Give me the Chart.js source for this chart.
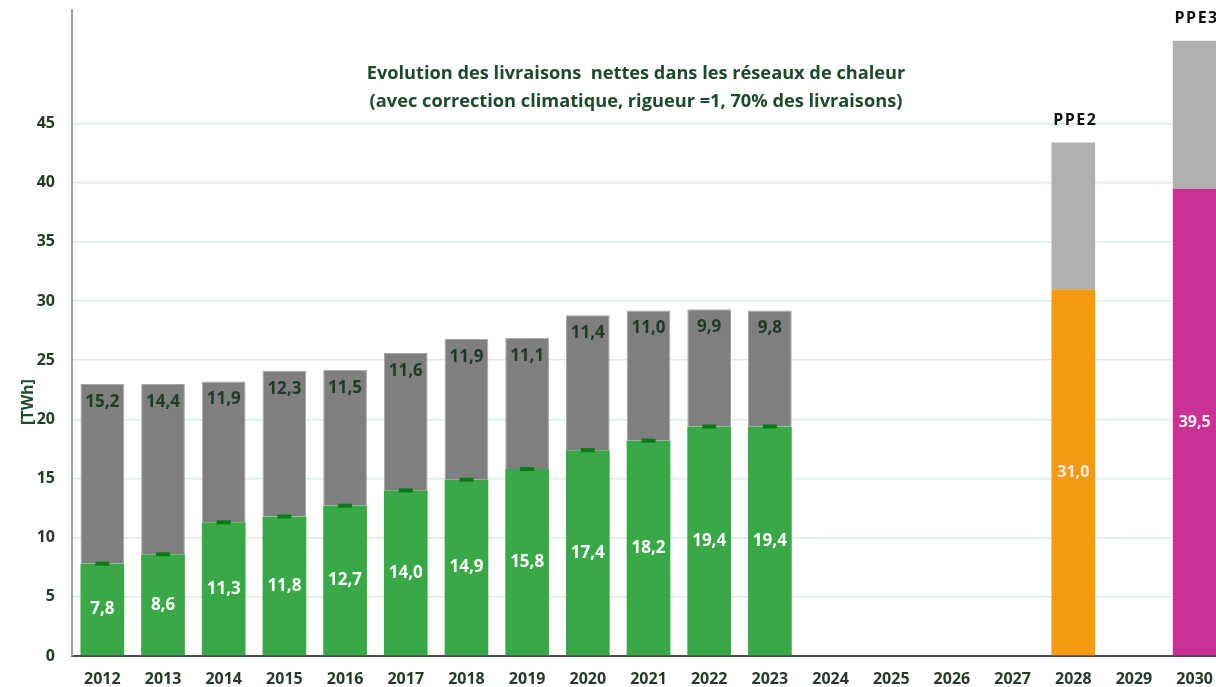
<!DOCTYPE html>
<html>
<head>
<meta charset="utf-8">
<script src="https://cdn.jsdelivr.net/npm/chart.js"></script>
<style>
  html, body { margin: 0; padding: 0; background: #ffffff; overflow: hidden; }
  #wrap { position: relative; width: 1216px; height: 687px; overflow: hidden; }
  #c { position: absolute; left: 0; top: 0; display: block; }
</style>
</head>
<body>
<div id="wrap"><canvas id="c" width="1225" height="687"></canvas></div>
<script>
const categories = ['2012','2013','2014','2015','2016','2017','2018','2019','2020','2021','2022','2023','2024','2025','2026','2027','2028','2029','2030'];
const greenValues = [7.8, 8.6, 11.3, 11.8, 12.7, 14.0, 14.9, 15.8, 17.4, 18.2, 19.4, 19.4, null, null, null, null, null, null, null];
const greyValues  = [15.2, 14.4, 11.9, 12.3, 11.5, 11.6, 11.9, 11.1, 11.4, 11.0, 9.9, 9.8, null, null, null, null, null, null, null];
const targetValues = [null, null, null, null, null, null, null, null, null, null, null, null, null, null, null, null, 31.0, null, 39.5];
const targetGreyValues = [null, null, null, null, null, null, null, null, null, null, null, null, null, null, null, null, 12.4, null, 12.5];
const targetNames = [null, null, null, null, null, null, null, null, null, null, null, null, null, null, null, null, 'PPE2', null, 'PPE3'];
const yTicks = [0, 5, 10, 15, 20, 25, 30, 35, 40, 45];
const titleLines = ['Evolution des livraisons  nettes dans les réseaux de chaleur', '(avec correction climatique, rigueur =1, 70% des livraisons)'];
const yTitle = '[TWh]';

const FONT = '"Open Sans", "DejaVu Sans", sans-serif';
const fmt = v => v.toFixed(1).replace('.', ',');

const labelPlugin = {
  id: 'labels',
  afterDatasetsDraw(chart) {
    const ctx = chart.ctx;
    ctx.save();
    ctx.textAlign = 'center';
    ctx.textBaseline = 'middle';
    ctx.font = 'bold 17px ' + FONT;
    chart.getDatasetMeta(0).data.forEach((el, i) => {
      const v = greenValues[i]; if (v == null) return;
      const p = el.getProps(['x','y','base'], true);
      ctx.fillStyle = '#ffffff';
      ctx.fillText(fmt(v), p.x, (p.y + p.base) / 2);
    });
    chart.getDatasetMeta(1).data.forEach((el, i) => {
      const v = greyValues[i]; if (v == null) return;
      const p = el.getProps(['x','y','base'], true);
      ctx.fillStyle = '#1e3a28';
      ctx.fillText(fmt(v), p.x, p.y + 18);
    });
    ctx.font = 'bold 16px ' + FONT;
    chart.getDatasetMeta(2).data.forEach((el, i) => {
      const v = targetValues[i]; if (v == null) return;
      const p = el.getProps(['x','y','base'], true);
      ctx.fillStyle = '#f7ece4';
      ctx.fillText(fmt(v), p.x, (p.y + p.base) / 2);
    });
    ctx.font = 'bold 16px ' + FONT;
    if ('letterSpacing' in ctx) ctx.letterSpacing = '1.5px';
    chart.getDatasetMeta(3).data.forEach((el, i) => {
      const n = targetNames[i]; if (!n) return;
      const p = el.getProps(['x','y'], true);
      ctx.fillStyle = '#111111';
      ctx.fillText(n, p.x + 2, p.y - 22);
    });
    ctx.restore();
  },
  afterDraw(chart) {
    const ctx = chart.ctx;
    ctx.save();
    ctx.fillStyle = '#1e4a2c';
    ctx.textAlign = 'center';
    ctx.textBaseline = 'middle';
    let size = 18;
    ctx.font = 'bold ' + size + 'px ' + FONT;
    const w = ctx.measureText(titleLines[0]).width;
    size = size * 539 / w;
    ctx.font = 'bold ' + size.toFixed(2) + 'px ' + FONT;
    ctx.fillText(titleLines[0], 636, 74);
    ctx.fillText(titleLines[1], 636, 102);
    ctx.translate(28, 402);
    ctx.rotate(-Math.PI / 2);
    ctx.font = 'bold 16px ' + FONT;
    ctx.fillStyle = '#1e4a2c';
    ctx.fillText(yTitle, 0, 0);
    ctx.restore();
  }
};

new Chart(document.getElementById('c'), {
  type: 'bar',
  data: {
    labels: categories,
    datasets: [
      { label: 'green', data: greenValues, backgroundColor: '#39a846', stack: 's', order: 2 },
      { label: 'grey', data: greyValues, backgroundColor: '#7f7f7f', borderColor: '#a6a6a6', borderWidth: 1, stack: 's', order: 2 },
      { label: 'target', data: targetValues, backgroundColor: categories.map(c => c === '2028' ? '#f59a12' : '#c83295'), stack: 's', order: 2 },
      { label: 'targetGrey', data: targetGreyValues, backgroundColor: '#b0b0b0', stack: 's', order: 2 },
      { type: 'line', label: 'marker', data: greenValues, stack: 'm', showLine: false, pointStyle: 'line',
        pointRadius: 7, pointHoverRadius: 7, borderWidth: 4, borderColor: '#0b7a17', backgroundColor: '#0b7a17', order: 1 }
    ]
  },
  options: {
    responsive: false,
    animation: false,
    events: [],
    layout: { padding: 0, autoPadding: false },
    datasets: { bar: { categoryPercentage: 1.0, barPercentage: 0.72 } },
    plugins: { legend: { display: false }, tooltip: { enabled: false }, title: { display: false } },
    scales: {
      x: {
        stacked: true,
        grid: { display: false, drawTicks: false },
        border: { display: true, color: '#4d4d4d', width: 2 },
        ticks: { color: '#253a2c', font: { family: FONT, size: 16, weight: 'bold' }, padding: 14, maxRotation: 0, autoSkip: false },
        afterFit: s => { s.height = 31; s.paddingLeft = 0; s.paddingRight = 0; }
      },
      y: {
        stacked: true,
        min: 0,
        max: 54.6,
        afterBuildTicks: s => { s.ticks = yTicks.map(v => ({ value: v })); },
        grid: { color: '#dcefe0', lineWidth: 1.5, drawTicks: false },
        border: { display: true, color: '#a0a0a0', width: 2 },
        ticks: { color: '#253a2c', font: { family: FONT, size: 16, weight: 'bold' }, padding: 17 },
        afterFit: s => { s.width = 72; s.paddingTop = 10; s.paddingBottom = 0; }
      }
    }
  },
  plugins: [labelPlugin]
});
</script>
</body>
</html>
